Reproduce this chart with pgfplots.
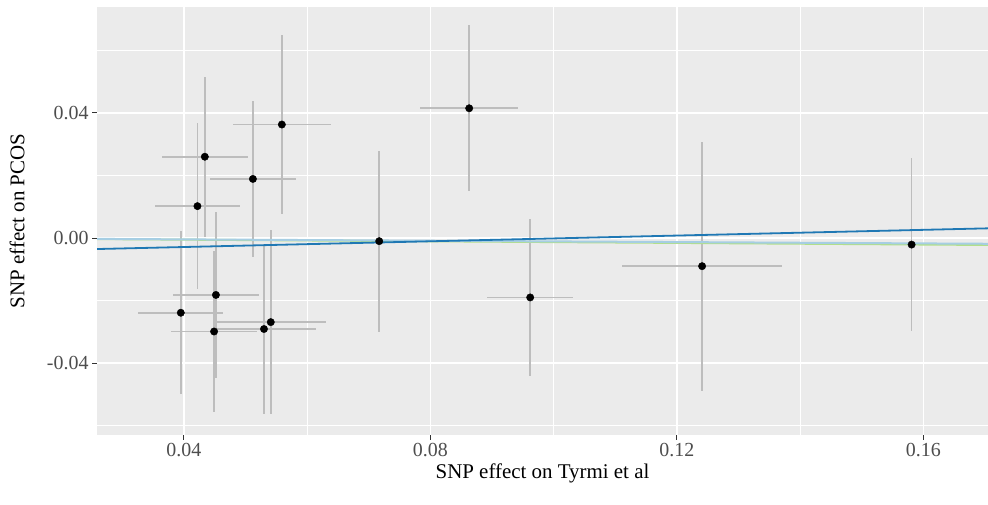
\documentclass[border=0pt]{standalone}
\usepackage{fontspec}
\setmainfont{Liberation Serif}
\usepackage{pgfplots}
\usepackage{pgfplotstable}
\pgfplotsset{compat=1.18}
\definecolor{ggbg}{HTML}{EBEBEB}
\definecolor{errc}{HTML}{BDBDBD}
\definecolor{ivw}{HTML}{A6CEE3}
\definecolor{egger}{HTML}{1F78B4}
\definecolor{wm}{HTML}{B2DF8A}
\definecolor{tickc}{HTML}{333333}
\definecolor{labc}{HTML}{4D4D4D}
\pgfplotstableread{
x       y        ex       ey
0.0559  0.0363   0.00795  0.02865
0.0434  0.0260   0.00695  0.02565
0.0512  0.0189   0.00695  0.0250
0.0422  0.0102   0.00695  0.0265
0.0717  -0.0010  0.0004   0.02895
0.0452  -0.0182  0.00695  0.0266
0.0395  -0.0239  0.0069   0.0261
0.0449  -0.0299  0.00695  0.0256
0.0541  -0.0269  0.0089   0.02935
0.0530  -0.0291  0.0085   0.0273
0.0863  0.0415   0.0080   0.0265
0.1241  -0.0090  0.0130   0.03985
0.1581  -0.0021  0.0004   0.0276
0.0962  -0.0190  0.00695  0.0251
}\snpdata
\begin{document}
\begin{tikzpicture}[x=1bp,y=1bp]
\useasboundingbox (0,0) rectangle (988,505);
\begin{axis}[
 at={(97bp,70bp)}, anchor=south west,
 width=891bp, height=428bp, scale only axis,
 xmin=0.0259, xmax=0.1705, ymin=-0.063, ymax=0.0739,
 xtick={0.04,0.08,0.12,0.16}, ytick={-0.04,0,0.04},
 minor xtick={0.06,0.10,0.14}, minor ytick={-0.06,-0.02,0.02,0.06},
 xticklabels={0.04,0.08,0.12,0.16}, yticklabels={-0.04,0.00,0.04},
 grid=both,
 major grid style={white, line width=1.6bp},
 minor grid style={white, line width=0.8bp},
 axis background/.style={fill=ggbg},
 axis line style={draw=none},
 tick align=outside, xtick pos=bottom, ytick pos=left,
 major tick length=5bp, minor tick length=0pt,
 tick style={tickc, line width=1bp},
 ticklabel style={font=\fontsize{20}{24}\selectfont, text=labc},
 label style={font=\fontsize{21}{25}\selectfont},
 xlabel={SNP effect on Tyrmi et al},
 ylabel={SNP effect on PCOS},
 ylabel style={at={(axis description cs:-0.0898,0.5)}, anchor=center},
]
\addplot[draw=none, mark=none, forget plot,
  error bars/.cd, x dir=both, x explicit, y dir=both, y explicit,
  error mark=none, error bar style={draw=errc, line width=1.6bp}]
  table[x=x, y=y, x error=ex, y error=ey] {\snpdata};
\addplot[only marks, mark=*, mark size=3.7bp, black, forget plot] table[x=x, y=y] {\snpdata};
\addplot[wm, line width=2bp] coordinates {(0.0259,-0.000337) (0.1705,-0.002217)};
\addplot[ivw, line width=2bp] coordinates {(0.0259,-0.00028) (0.1705,-0.00184)};
\addplot[egger, line width=1.8bp] coordinates {(0.0259,-0.00352) (0.1705,0.00310)};
\end{axis}
\end{tikzpicture}
\end{document}
